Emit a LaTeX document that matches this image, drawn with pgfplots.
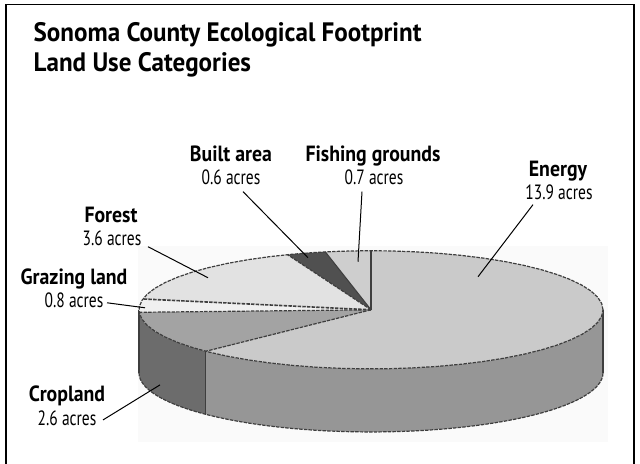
\documentclass[border=0pt]{standalone}
\usepackage{pgfplots}
\pgfplotsset{compat=1.18}
\usepackage{pgfplotstable}
\usepackage{fontspec}
\setmainfont{PT Sans}[FakeStretch=0.86]
\newfontfamily\titlefont{PT Sans}[FakeStretch=0.94]
\newfontfamily\namefont{PT Sans}[FakeStretch=0.9]
\newfontfamily\valfont{PT Sans}[FakeStretch=0.75]

\definecolor{edgegray}{RGB}{62,62,62}
\definecolor{energytop}{RGB}{202,202,202}
\definecolor{energyside}{RGB}{150,150,150}
\definecolor{croptop}{RGB}{163,163,163}
\definecolor{cropside}{RGB}{108,108,108}
\definecolor{grazetop}{RGB}{240,240,240}
\definecolor{foresttop}{RGB}{226,226,226}
\definecolor{builttop}{RGB}{80,80,80}
\definecolor{fishtop}{RGB}{206,206,206}

% acres per person, in the order the slices run clockwise from 12 o'clock
\pgfplotstableread{
category acres
Energy   13.9
Cropland 2.6
Grazing  0.8
Forest   3.6
Built    0.6
Fishing  0.7
}\landuse

% pie geometry (pixel-like axis units): centre, radii, depth
\def\cx{371}\def\cy{310}\def\rx{232}\def\ry{59}\def\dz{63}

\tikzset{
  rim/.style={draw=edgegray, line width=0.9pt, dash pattern=on 2.6pt off 0.9pt},
  cut/.style={draw=edgegray, line width=0.8pt},
  leader/.style={draw=black, line width=0.75pt},
  lbl/.style={font=\namefont\bfseries\fontsize{16.5}{18}\selectfont, anchor=base},
  val/.style={font=\valfont\fontsize{15.5}{18}\selectfont, anchor=base},
}
% elliptical rim of the top face and of the bottom edge
\newcommand\toparc[2]{plot[domain=#1:#2, samples=60, variable=\t]
  ({\cx+\rx*cos(\t)},{\cy-\ry*sin(\t)})}
\newcommand\ltoparc[2]{-- plot[domain=#1:#2, samples=60, variable=\t]
  ({\cx+\rx*cos(\t)},{\cy-\ry*sin(\t)})}
\newcommand\lbotarc[2]{-- plot[domain=#1:#2, samples=60, variable=\t]
  ({\cx+\rx*cos(\t)},{\cy+\dz-\ry*sin(\t)})}
\newcommand\botarc[2]{plot[domain=#1:#2, samples=60, variable=\t]
  ({\cx+\rx*cos(\t)},{\cy+\dz-\ry*sin(\t)})}
\newcommand\rimpt[1]{({\cx+\rx*cos(#1)},{\cy-\ry*sin(#1)})}

\begin{document}
\begin{tikzpicture}
% slice boundary angles from the table
\pgfplotstablegetrowsof{\landuse}
\pgfmathtruncatemacro\nrows{\pgfplotsretval-1}
\gdef\total{0}
\foreach \i in {0,...,\nrows}{%
  \pgfplotstablegetelem{\i}{acres}\of\landuse
  \pgfmathsetmacro\tmp{\total+\pgfplotsretval}\xdef\total{\tmp}}
\gdef\cur{90}
\xdef\angO{90}
\foreach \i/\nm in {0/A,1/B,2/C,3/D,4/E,5/F}{%
  \pgfplotstablegetelem{\i}{acres}\of\landuse
  \pgfmathsetmacro\nxt{\cur-360*\pgfplotsretval/\total}
  \expandafter\xdef\csname ang\nm\endcsname{\nxt}
  \xdef\cur{\nxt}}
\pgfmathsetmacro\lx{\cx-\rx}\pgfmathsetmacro\rxx{\cx+\rx}
\pgfmathsetmacro\ty{\cy-\ry}

\begin{axis}[scale only axis, width=480pt, height=348pt,
  xmin=0, xmax=640, ymin=0, ymax=464, y dir=reverse,
  axis lines=none, clip=false]

% frame and panel
\draw[black, line width=1.1pt] (6,480) -- (6,5) -- (634,5) -- (634,480);
\fill[black!2] (138,246) rectangle (608,442);

% side walls (front half only)
\fill[energyside] \toparc{\angA}{0} \lbotarc{0}{\angA} -- cycle;
\fill[cropside] \toparc{\angB}{\angA} \lbotarc{\angA}{\angB} -- cycle;
\fill[grazetop!85!black] \toparc{-180}{\angB} \lbotarc{\angB}{-180} -- cycle;
\draw[rim] \botarc{-180}{0};
\draw[cut] \rimpt{\angA} -- ++(0,\dz);
\draw[cut] (\lx,\cy) -- ++(0,\dz);
\draw[cut] (\rxx,\cy) -- ++(0,\dz);

% top faces
\fill[energytop] (\cx,\cy) \ltoparc{\angO}{\angA} -- cycle;
\fill[croptop]   (\cx,\cy) \ltoparc{\angA}{\angB} -- cycle;
\fill[grazetop]  (\cx,\cy) \ltoparc{\angB}{\angC} -- cycle;
\fill[foresttop] (\cx,\cy) \ltoparc{\angC}{\angD} -- cycle;
\fill[builttop]  (\cx,\cy) \ltoparc{\angD}{\angE} -- cycle;
\fill[fishtop]   (\cx,\cy) \ltoparc{\angE}{\angF} -- cycle;

% outlines
\draw[rim] \toparc{0}{360};
\draw[rim] (\cx,\cy) -- \rimpt{\angA};
\draw[rim] (\cx,\cy) -- \rimpt{\angB};
\draw[rim, line width=1.2pt] (\cx,\cy) -- \rimpt{\angC};
\draw[rim] (\cx,\cy) -- \rimpt{\angD};
\draw[cut] (\cx,\cy) -- \rimpt{\angE};
\draw[cut] (\cx,\cy) -- (\cx,\ty);

% title
\node[anchor=base west, font=\titlefont\bfseries\fontsize{20}{24}\selectfont] at (29,42)
  {Sonoma County Ecological Footprint};
\node[anchor=base west, font=\titlefont\bfseries\fontsize{20}{24}\selectfont] at (29,72)
  {Land Use Categories};

% labels
\node[lbl] at (231,162) {Built area};      \node[val] at (231,185) {0.6 acres};
\node[lbl] at (373,162) {Fishing grounds}; \node[val] at (374,185) {0.7 acres};
\node[lbl] at (558,177) {Energy};          \node[val] at (559,200) {13.9 acres};
\node[lbl] at (111,223) {Forest};          \node[val] at (112,246) {3.6 acres};
\node[lbl] at (74,285)  {Grazing land};    \node[val] at (74,308)  {0.8 acres};
\node[lbl] at (67,402)  {Cropland};        \node[val] at (67,426)  {2.6 acres};

% leader lines
\draw[leader] (243,192) -- (308,258);
\draw[leader] (362,192) -- (358,262);
\draw[leader] (533,205) -- (478,277);
\draw[leader] (148,247) -- (208,278);
\draw[leader] (107,303) -- (145,308);
\draw[leader] (103,420) -- (160,385);
\end{axis}
\pgfresetboundingbox
\path (0,0) rectangle (480pt,348pt);
\end{tikzpicture}
\end{document}
